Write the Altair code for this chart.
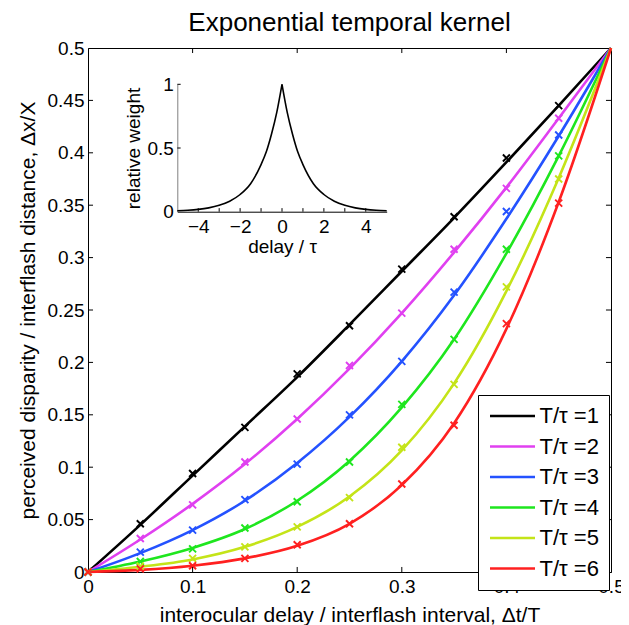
import altair as alt
import pandas as pd

FONT = "Liberation Sans"

# ---------------- data ----------------
series_labels = ["T/τ =1", "T/τ =2", "T/τ =3", "T/τ =4", "T/τ =5", "T/τ =6"]
series_colors = ["#000000", "#e040f0", "#2452ff", "#1ee61e", "#c4e418", "#ff2020"]

# smooth (model) curves
curve_x = [0, 0.05, 0.1, 0.15, 0.2, 0.25, 0.3, 0.35, 0.4, 0.45, 0.5]
curve_r1 = [0, 0.045, 0.092, 0.139, 0.186, 0.236, 0.287, 0.338, 0.391, 0.445, 0.5]
curve_r2 = [0, 0.031, 0.065, 0.103, 0.146, 0.194, 0.247, 0.305, 0.367, 0.433, 0.5]
curve_r3 = [0, 0.018, 0.040, 0.068, 0.104, 0.148, 0.201, 0.264, 0.337, 0.416, 0.5]
curve_r4 = [0, 0.010, 0.023, 0.041, 0.068, 0.106, 0.157, 0.222, 0.304, 0.397, 0.5]
curve_r5 = [0, 0.005, 0.012, 0.024, 0.043, 0.072, 0.116, 0.180, 0.268, 0.376, 0.5]
curve_r6 = [0, 0.002, 0.006, 0.013, 0.025, 0.046, 0.083, 0.142, 0.232, 0.353, 0.5]
curve_values = [curve_r1, curve_r2, curve_r3, curve_r4, curve_r5, curve_r6]

# simulated points (x markers)
marker_x = [0, 0.05, 0.1, 0.15, 0.2, 0.25, 0.3, 0.35, 0.4, 0.45]
marker_r1 = [0, 0.046, 0.094, 0.138, 0.189, 0.235, 0.289, 0.339, 0.395, 0.445]
marker_r2 = [0, 0.032, 0.064, 0.105, 0.146, 0.197, 0.247, 0.308, 0.366, 0.433]
marker_r3 = [0, 0.019, 0.040, 0.069, 0.103, 0.150, 0.201, 0.267, 0.344, 0.417]
marker_r4 = [0, 0.010, 0.022, 0.042, 0.067, 0.105, 0.160, 0.222, 0.308, 0.397]
marker_r5 = [0, 0.0056, 0.013, 0.024, 0.043, 0.071, 0.119, 0.179, 0.272, 0.375]
marker_r6 = [0, 0.003, 0.006, 0.013, 0.026, 0.046, 0.084, 0.140, 0.237, 0.352]
marker_values = [marker_r1, marker_r2, marker_r3, marker_r4, marker_r5, marker_r6]

x_tick_vals = [0, 0.1, 0.2, 0.3, 0.4, 0.5]
y_tick_vals = [0, 0.05, 0.1, 0.15, 0.2, 0.25, 0.3, 0.35, 0.4, 0.45, 0.5]

# inset: kernel (left and right branches)
kern_t_left = [-5, -4.5, -4, -3.5, -3, -2.5, -2, -1.5, -1, -0.75, -0.5, -0.25, 0]
kern_w_left = [0.007, 0.011, 0.018, 0.03, 0.05, 0.082, 0.135, 0.22, 0.37, 0.47, 0.61, 0.78, 1.0]
kern_t_right = [0, 0.25, 0.5, 0.75, 1, 1.5, 2, 2.5, 3, 3.5, 4, 4.5, 5]
kern_w_right = [1.0, 0.78, 0.61, 0.47, 0.37, 0.22, 0.135, 0.082, 0.05, 0.03, 0.018, 0.011, 0.007]
inset_x_ticks = [-4, -3, -2, -1, 0, 1, 2, 3, 4]
inset_x_labels = [-4, -2, 0, 2, 4]
inset_y_labels = [0, 0.5, 1]

# ---------------- tables ----------------
rows = []
for lab, vals in zip(series_labels, curve_values):
    for xv, yv in zip(curve_x, vals):
        rows.append({"x": xv, "y": yv, "series": lab})
df = pd.DataFrame(rows)

mrows = []
for lab, vals in zip(series_labels, marker_values):
    for xv, yv in zip(marker_x, vals):
        mrows.append({"x": xv, "y": yv, "series": lab})
df_m = pd.DataFrame(mrows)

TL = 0.0048  # inward tick length (data units of main plot)
tick_rows = []
for v in x_tick_vals[1:-1]:
    tick_rows.append({"x": v, "y": 0, "x2": v, "y2": TL})
    tick_rows.append({"x": v, "y": 0.5, "x2": v, "y2": 0.5 - TL})
for v in y_tick_vals[1:-1]:
    tick_rows.append({"x": 0, "y": v, "x2": TL, "y2": v})
    tick_rows.append({"x": 0.5, "y": v, "x2": 0.5 - TL, "y2": v})
df_ticks = pd.DataFrame(tick_rows)

krows = []
for t, w in zip(kern_t_left, kern_w_left):
    krows.append({"t": t, "w": w, "side": "L"})
for t, w in zip(kern_t_right, kern_w_right):
    krows.append({"t": t, "w": w, "side": "R"})
df_k = pd.DataFrame(krows)

ktick_rows = []
for v in inset_x_ticks:
    ktick_rows.append({"t": v, "w": 0, "t2": v, "w2": 0.028})
for v in inset_y_labels[1:]:
    ktick_rows.append({"t": -5, "w": v, "t2": -4.84, "w2": v})
df_kt = pd.DataFrame(ktick_rows)

# ---------------- main plot ----------------
xs = alt.Scale(domain=[0, 0.5], nice=False, zero=False)
ys = alt.Scale(domain=[0, 0.5], nice=False, zero=False)
x_axis = alt.Axis(values=x_tick_vals, format="~g", ticks=False, grid=False,
                  labelFlush=False, labelPadding=5, labelFontSize=19,
                  titleFontSize=21, titlePadding=8,
                  title="interocular delay / interflash interval, Δt/T")
y_axis = alt.Axis(values=y_tick_vals, format="~g", ticks=False, grid=False,
                  labelFlush=False, labelPadding=4, labelFontSize=19,
                  titleFontSize=21, titlePadding=9,
                  title="perceived disparity / interflash distance, Δx/X")
cscale = alt.Scale(domain=series_labels, range=series_colors)

lines = alt.Chart(df).mark_line(strokeWidth=2.6, interpolate="monotone").encode(
    x=alt.X("x:Q", scale=xs, axis=x_axis),
    y=alt.Y("y:Q", scale=ys, axis=y_axis),
    color=alt.Color("series:N", scale=cscale, legend=alt.Legend(
        title=None, orient="none", legendX=390, legendY=347,
        fillColor="white", strokeColor="black", padding=10,
        symbolType="M-3,0H3", symbolSize=225, symbolStrokeWidth=2.6,
        symbolOffset=13.5, labelOffset=16, rowPadding=8.5,
        labelFontSize=22, labelFont=FONT, labelColor="black")),
)

marker_path = "M-1,-1L1,1M1,-1L-1,1"
points = alt.Chart(df_m).mark_point(shape=marker_path, filled=False, size=49,
                                    strokeWidth=1.9, opacity=1).encode(
    x=alt.X("x:Q", scale=xs, axis=x_axis),
    y=alt.Y("y:Q", scale=ys, axis=y_axis),
    color=alt.Color("series:N", scale=cscale, legend=None),
)

ticks = alt.Chart(df_ticks).mark_rule(color="black", strokeWidth=1).encode(
    x=alt.X("x:Q", scale=xs, axis=x_axis),
    y=alt.Y("y:Q", scale=ys, axis=y_axis),
    x2="x2:Q", y2="y2:Q",
)

main = alt.layer(lines, points, ticks)

# ---------------- inset ----------------
kx = alt.Scale(domain=[-5, 5], range=[89.3, 298.7], nice=False, zero=False)
ky = alt.Scale(domain=[0, 1], range=[163.7, 36.3], nice=False, zero=False)
kx_axis = alt.Axis(orient="bottom", offset=-360.3, values=inset_x_labels, format="~g",
                   ticks=False, grid=False, labelFlush=False, labelPadding=6,
                   labelFontSize=19, titleFontSize=19, titlePadding=1, title="delay / τ")
ky_axis = alt.Axis(orient="left", offset=-89.3, values=inset_y_labels, format="~g",
                   ticks=False, grid=False, labelFlush=False, labelPadding=4,
                   labelFontSize=19, titleFontSize=19, titlePadding=3,
                   title="relative weight", domainColor="#808080")

kline = alt.Chart(df_k).mark_line(color="black", strokeWidth=1.6, interpolate="monotone").encode(
    x=alt.X("t:Q", scale=kx, axis=kx_axis),
    y=alt.Y("w:Q", scale=ky, axis=ky_axis),
    detail="side:N",
)
kticks = alt.Chart(df_kt).mark_rule(color="black", strokeWidth=1).encode(
    x=alt.X("t:Q", scale=kx, axis=kx_axis),
    y=alt.Y("w:Q", scale=ky, axis=ky_axis),
    x2="t2:Q", y2="w2:Q",
)
inset = alt.layer(kline, kticks)

chart = alt.layer(main, inset).resolve_scale(
    x="independent", y="independent"
).properties(
    width=523, height=524,
    autosize=alt.AutoSizeParams(type="none"),
    padding={"left": 80, "top": 40, "right": 10, "bottom": 56},
    title=alt.TitleParams("Exponential temporal kernel", fontSize=26, font=FONT,
                          fontWeight="normal", color="black", offset=3, anchor="middle"),
).configure_view(
    stroke="black", strokeWidth=1
).configure_axis(
    labelFont=FONT, titleFont=FONT, titleFontWeight="normal",
    labelColor="black", titleColor="black", domainColor="black", domainWidth=1,
)

chart.save("out.html", embed_options={"renderer": "svg", "actions": False})
